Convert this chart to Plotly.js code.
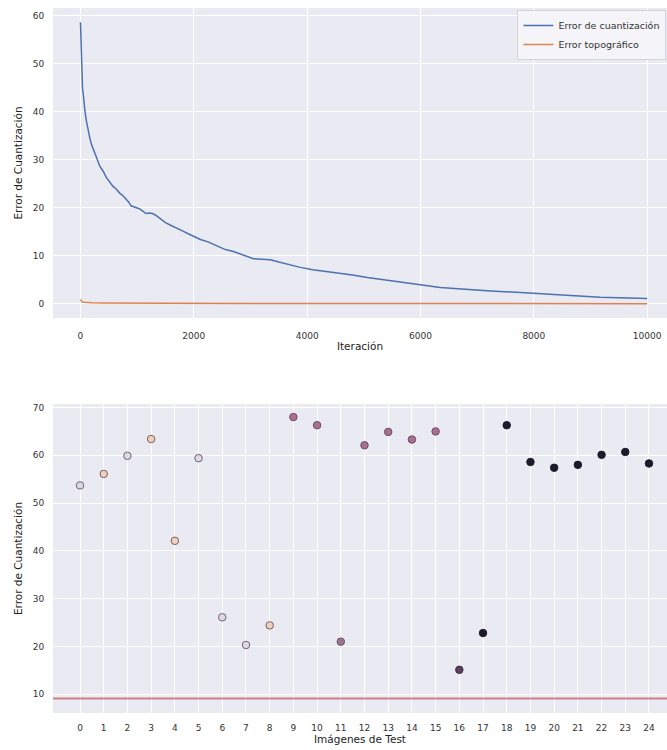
<!DOCTYPE html>
<html>
<head>
<meta charset="utf-8">
<script src="https://cdn.plot.ly/plotly-3.0.1.min.js"></script>
<style>
html,body{margin:0;padding:0;background:#fff;}
#chart{width:667px;height:750px;}
</style>
</head>
<body>
<div id="chart"></div>
<script>
// ---- Top chart data ----
const iterQE = [0, 5, 10, 17, 25, 35, 50, 64, 80, 105, 130, 163, 190, 222, 250, 280, 310, 338, 400, 455, 510, 571, 630, 688, 750, 805, 850, 892, 950, 1038, 1100, 1155, 1210, 1271, 1320, 1358, 1400, 1446, 1500, 1600, 1700, 1800, 1900, 2000, 2116, 2250, 2400, 2557, 2700, 2850, 3051, 3200, 3351, 3500, 3700, 3880, 4100, 4356, 4600, 4800, 5062, 5300, 5500, 5767, 6000, 6200, 6350, 6600, 6800, 7108, 7400, 7700, 7990, 8300, 8590, 8900, 9170, 9500, 9800, 10000];
const quantError = [58.6, 55.5, 53.5, 51.5, 47.5, 45.0, 43.5, 41.5, 40.0, 38.0, 36.2, 34.6, 33.3, 32.2, 31.5, 30.4, 29.6, 28.7, 27.6, 26.3, 25.4, 24.5, 23.9, 23.1, 22.5, 21.8, 21.2, 20.4, 20.2, 19.8, 19.3, 18.8, 18.9, 18.8, 18.5, 18.2, 17.8, 17.4, 16.9, 16.3, 15.8, 15.2, 14.6, 14.0, 13.4, 12.9, 12.1, 11.3, 10.9, 10.2, 9.4, 9.3, 9.2, 8.7, 8.1, 7.6, 7.1, 6.7, 6.4, 6.0, 5.5, 5.1, 4.8, 4.3, 3.9, 3.6, 3.4, 3.2, 3.0, 2.8, 2.6, 2.4, 2.2, 1.9, 1.7, 1.5, 1.4, 1.3, 1.15, 1.1];
const iterTE = [0, 10, 30, 60, 100, 200, 400, 800, 1500, 3000, 5000, 7000, 10000];
const topoError = [0.9, 0.7, 0.45, 0.35, 0.3, 0.25, 0.2, 0.15, 0.12, 0.1, 0.08, 0.06, 0.05];
const seriesNames = ["Error de cuantización", "Error topográfico"];
const iterTicks = [0, 2000, 4000, 6000, 8000, 10000];
const iterTickText = ["0", "2000", "4000", "6000", "8000", "10000"];

// ---- Bottom chart data ----
const testImages = [0,1,2,3,4,5,6,7,8,9,10,11,12,13,14,15,16,17,18,19,20,21,22,23,24];
const testError = [53.7, 56.1, 59.9, 63.4, 42.1, 59.4, 26.1, 20.3, 24.4, 68.0, 66.3, 21.0, 62.1, 64.9, 63.3, 65.0, 15.1, 22.8, 66.3, 58.6, 57.4, 58.0, 60.1, 60.7, 58.3];
const hueClass = [0, 1, 0, 1, 1, 0, 0, 0, 1, 2, 2, 3, 2, 2, 2, 2, 4, 5, 5, 5, 5, 5, 5, 5, 5];
const threshold = [9.1];

// palettes (style)
const fillPal = ["#dfd8e2", "#eed0c3", "#a8708f", "#98758f", "#5b405f", "#1e1a2b"];
const linePal = ["#6c6472", "#7a6058", "#6f4a64", "#6a5468", "#3e2a42", "#1e1a2b"];

const font = "DejaVu Sans, sans-serif";
const tickFont = {family: font, size: 9, color: "#333"};
const titleFont = {family: font, size: 10.5, color: "#222"};

const traces = [
  {x: iterQE, y: quantError, type: "scatter", mode: "lines", name: seriesNames[0],
   line: {color: "#4c72b0", width: 1.5}, xaxis: "x", yaxis: "y"},
  {x: iterTE, y: topoError, type: "scatter", mode: "lines", name: seriesNames[1],
   line: {color: "#dd8452", width: 1.5}, xaxis: "x", yaxis: "y"},
  {x: testImages, y: testError, type: "scatter", mode: "markers", showlegend: false,
   marker: {size: 7.5, color: hueClass.map(h => fillPal[h]),
            line: {color: hueClass.map(h => linePal[h]), width: 1}},
   xaxis: "x2", yaxis: "y2"}
];

const axCommon = {
  showgrid: true, gridcolor: "#ffffff", gridwidth: 1, zeroline: false,
  showline: false, ticks: "outside", tickcolor: "rgba(0,0,0,0)",
  tickfont: tickFont
};

const layout = {
  width: 667, height: 750,
  paper_bgcolor: "#ffffff", plot_bgcolor: "#eaeaf2",
  margin: {l: 53, r: 0, t: 8, b: 37, autoexpand: false},
  showlegend: true,
  legend: {x: 0.999, y: 0.997, xanchor: "right", yanchor: "top",
           bgcolor: "rgba(245,245,249,0.9)", bordercolor: "#d4d4d8", borderwidth: 1,
           font: {family: font, size: 9.5, color: "#333"}, tracegroupgap: 0},
  xaxis: Object.assign({}, axCommon, {domain: [0, 1], anchor: "y", range: [-485, 10350],
          tickvals: iterTicks, ticktext: iterTickText, ticklen: 9,
          title: {text: "Iteración", font: titleFont, standoff: 2}}),
  yaxis: Object.assign({}, axCommon, {domain: [0.5603, 1], anchor: "x", range: [-2.93, 61.55],
          tickvals: [0, 10, 20, 30, 40, 50, 60], ticklen: 6,
          title: {text: "Error de Cuantización", font: titleFont, standoff: 8}}),
  xaxis2: Object.assign({}, axCommon, {domain: [0, 1], anchor: "y2", range: [-1.14, 24.76],
          tickvals: testImages, ticklen: 6,
          title: {text: "Imágenes de Test", font: titleFont, standoff: 2}}),
  yaxis2: Object.assign({}, axCommon, {domain: [0, 0.4383], anchor: "x2", range: [6.06, 70.74],
          tickvals: [10, 20, 30, 40, 50, 60, 70], ticklen: 6,
          title: {text: "Error de Cuantización", font: titleFont, standoff: 8}}),
  shapes: [{type: "line", xref: "x2 domain", yref: "y2", x0: 0, x1: 1,
            y0: threshold[0], y1: threshold[0],
            line: {color: "rgba(205,110,118,0.85)", width: 2}}]
};

Plotly.newPlot("chart", traces, layout, {displayModeBar: false, staticPlot: true});
</script>
</body>
</html>
